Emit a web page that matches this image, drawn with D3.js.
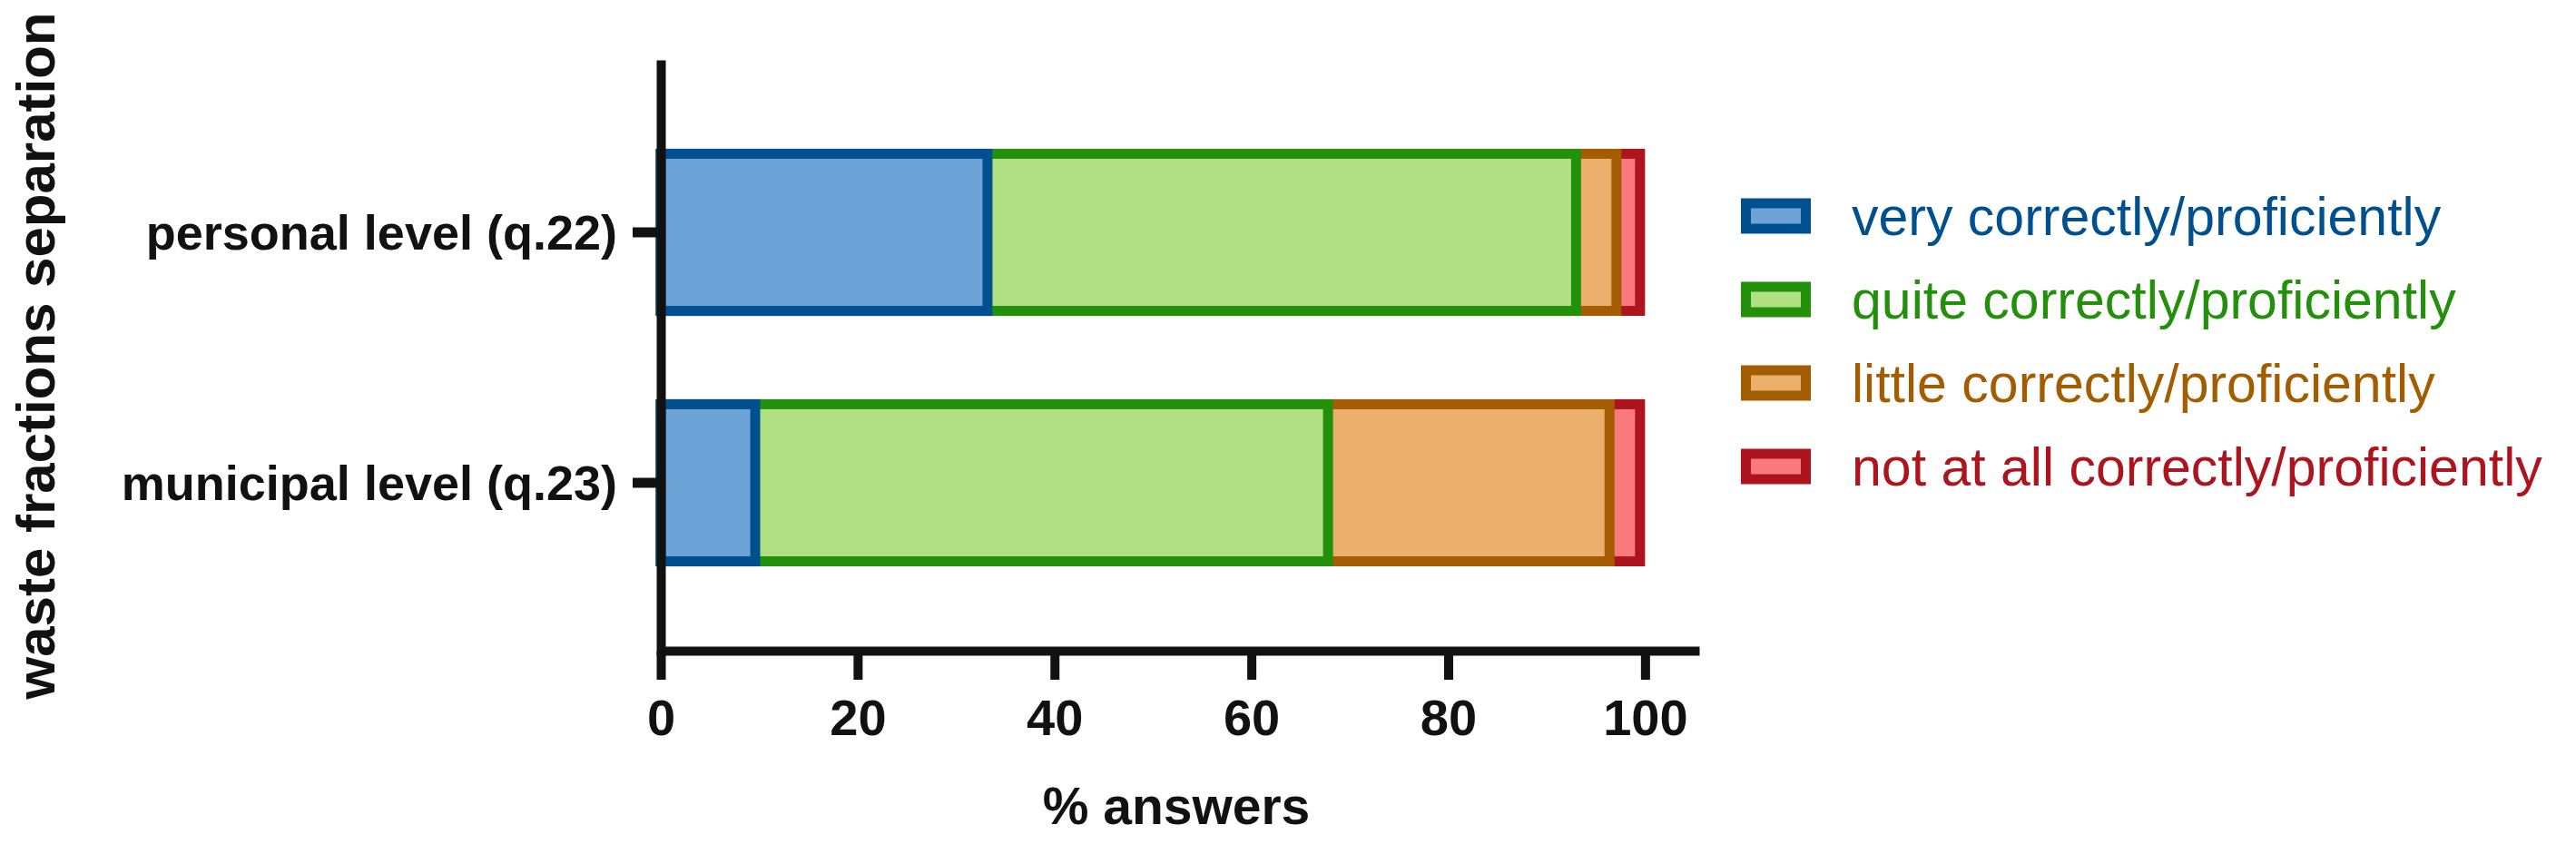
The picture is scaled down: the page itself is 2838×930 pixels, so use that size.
<!DOCTYPE html>
<html>
<head>
<meta charset="utf-8">
<script src="https://cdn.jsdelivr.net/npm/d3@7"></script>
<style>
  body { margin: 0; background: #fff; }
  text { font-family: "Liberation Sans", Arial, sans-serif; }
</style>
</head>
<body>
<svg id="chart" width="2838" height="930"></svg>
<script>
// values, in % of answers
const categories = ["personal level (q.22)", "municipal level (q.23)"]
const seriesNames = [
  "very correctly/proficiently",
  "quite correctly/proficiently",
  "little correctly/proficiently",
  "not at all correctly/proficiently"
]
const veryValues = [33.7, 10.1]
const quiteValues = [59.8, 58.2]
const littleValues = [4.1, 28.6]
const notAtAllValues = [2.4, 3.1]
const xTicks = [0, 20, 40, 60, 80, 100]

const strokeColors = ["#00508f", "#23900b", "#a35c00", "#ad141e"]
const fillColors = ["#6ea3d7", "#b1df83", "#ecb06d", "#f9797e"]

const table = categories.map((c, i) => ({
  category: c,
  [seriesNames[0]]: veryValues[i],
  [seriesNames[1]]: quiteValues[i],
  [seriesNames[2]]: littleValues[i],
  [seriesNames[3]]: notAtAllValues[i]
}))

draw(table)

function draw (table) {
  let svg = d3.select("#chart")
  const sw = 11

  let x = d3.scaleLinear()
      .domain([0, 105.5])
      .range([728, 1872])

  let y = d3.scaleBand()
      .domain(categories)
      .range([66, 722])
      .paddingInner(0.333)
      .paddingOuter(0.355)

  let color = d3.scaleOrdinal().domain(seriesNames).range(strokeColors)
  let fill = d3.scaleOrdinal().domain(seriesNames).range(fillColors)

  let series = d3.stack().keys(seriesNames)(table)

  // each segment is drawn from 0 to its cumulative end, last one first,
  // so only its right border shows past the segment before it
  let layers = svg.append("g")
    .selectAll("g")
    .data(series.slice().reverse())
    .enter().append("g")
      .attr("fill", d => fill(d.key))
      .attr("stroke", d => color(d.key))
      .attr("stroke-width", sw)

  layers.selectAll("rect")
    .data(d => d)
    .enter().append("rect")
      .attr("x", x(0))
      .attr("y", d => y(d.data.category) + sw / 2)
      .attr("width", d => x(d[1]) - sw / 2 - x(0))
      .attr("height", y.bandwidth() - sw)

  // axes
  let xAxis = svg.append("g")
      .attr("transform", "translate(0,717)")
      .call(d3.axisBottom(x).tickValues(xTicks).tickSize(32).tickSizeOuter(0).tickPadding(21))

  xAxis.select(".domain").attr("stroke", "#111").attr("stroke-width", 10)
  xAxis.selectAll(".tick line").attr("stroke", "#111").attr("stroke-width", 10)
  xAxis.selectAll(".tick text")
      .attr("fill", "#111")
      .style("font-size", "56px")
      .style("font-weight", "bold")

  let yAxis = svg.append("g")
      .attr("transform", "translate(728,0)")
      .call(d3.axisLeft(y).tickSize(31).tickSizeOuter(0).tickPadding(17))

  yAxis.select(".domain").attr("stroke", "#111").attr("stroke-width", 10)
  yAxis.selectAll(".tick line").attr("stroke", "#111").attr("stroke-width", 11)
  yAxis.selectAll(".tick text")
      .attr("fill", "#111")
      .attr("dy", "0.35em")
      .style("font-size", "54px")
      .style("font-weight", "bold")

  svg.append("text")
      .attr("transform", "translate(60,392) rotate(-90)")
      .attr("text-anchor", "middle")
      .attr("fill", "#111")
      .style("font-size", "60px")
      .style("font-weight", "bold")
      .text("waste fractions separation")

  svg.append("text")
      .attr("x", (x.range()[0] + x.range()[1]) / 2 - 4)
      .attr("y", 908)
      .attr("text-anchor", "middle")
      .attr("fill", "#111")
      .style("font-size", "57px")
      .style("font-weight", "bold")
      .text("% answers")

  // legend
  let legend = svg.append("g")
    .selectAll("g")
    .data(seriesNames)
    .enter().append("g")
      .attr("transform", (d, i) => "translate(1918," + (238 + i * 92) + ")")

  legend.append("rect")
      .attr("x", sw / 2)
      .attr("y", -19.5 + sw / 2)
      .attr("width", 77 - sw)
      .attr("height", 39 - sw)
      .attr("fill", d => fill(d))
      .attr("stroke", d => color(d))
      .attr("stroke-width", sw)

  legend.append("text")
      .attr("x", 122)
      .attr("dy", "0.35em")
      .attr("fill", d => color(d))
      .style("font-size", "59px")
      .text(d => d)
}
</script>
</body>
</html>
